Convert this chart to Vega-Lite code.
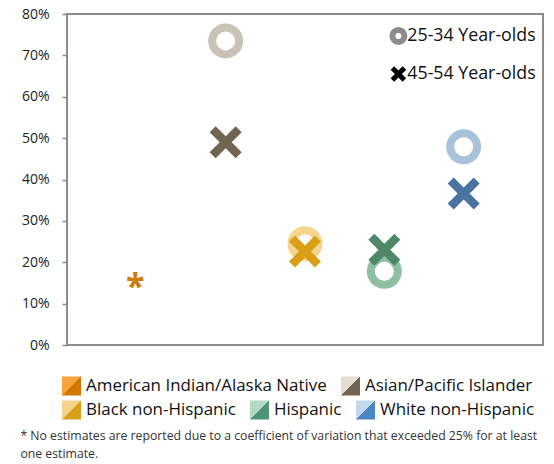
{
  "$schema": "https://vega.github.io/schema/vega-lite/v6.json",
  "width": 476,
  "height": 331,
  "autosize": "none",
  "padding": {"left": 67, "top": 14, "right": 11, "bottom": 119},
  "config": {
    "font": "Open Sans",
    "view": {"stroke": "#8c8c8c", "strokeWidth": 2}
  },
  "title": {
    "text": ["* No estimates are reported due to a coefficient of variation that exceeded 25% for at least", "one estimate."],
    "orient": "bottom",
    "anchor": "start",
    "frame": "bounds",
    "fontSize": 12.25,
    "fontWeight": "normal",
    "color": "#333333",
    "lineHeight": 18.5,
    "offset": 10,
    "dx": -1
  },
  "data": {
    "values": [
      {"group": "American Indian/Alaska Native", "age": "none", "value": 0.15, "note": "*"},
      {"group": "Asian/Pacific Islander", "age": "25-34 Year-olds", "value": 0.735},
      {"group": "Asian/Pacific Islander", "age": "45-54 Year-olds", "value": 0.49},
      {"group": "Black non-Hispanic", "age": "25-34 Year-olds", "value": 0.245},
      {"group": "Black non-Hispanic", "age": "45-54 Year-olds", "value": 0.226},
      {"group": "Hispanic", "age": "25-34 Year-olds", "value": 0.178},
      {"group": "Hispanic", "age": "45-54 Year-olds", "value": 0.23},
      {"group": "White non-Hispanic", "age": "25-34 Year-olds", "value": 0.479},
      {"group": "White non-Hispanic", "age": "45-54 Year-olds", "value": 0.366}
    ]
  },
  "encoding": {
    "x": {
      "field": "group",
      "type": "nominal",
      "scale": {"type": "point", "padding": 1, "domain": ["American Indian/Alaska Native", "Asian/Pacific Islander", "Black non-Hispanic", "Hispanic", "White non-Hispanic"]},
      "axis": null
    },
    "y": {
      "field": "value",
      "type": "quantitative",
      "scale": {"domain": [0, 0.8], "nice": false},
      "axis": {
        "title": null,
        "format": ".0%",
        "values": [0, 0.1, 0.2, 0.3, 0.4, 0.5, 0.6, 0.7, 0.8],
        "grid": false,
        "domain": false,
        "tickColor": "#8c8c8c",
        "tickSize": 5,
        "tickWidth": 1.5,
        "labelFontSize": 14,
        "labelColor": "#222222",
        "labelPadding": 13
      }
    }
  },
  "resolve": {"scale": {"fill": "independent"}},
  "layer": [
    {
      "transform": [{"filter": "false"}],
      "mark": {"type": "point", "filled": true, "shape": "square", "opacity": 1, "strokeWidth": 0},
      "encoding": {
        "fill": {
          "field": "group",
          "type": "nominal",
          "scale": {
            "domain": ["American Indian/Alaska Native", "Asian/Pacific Islander"],
            "range": [
              {"expr": "{gradient: 'linear', x1: 0, y1: 0, x2: 1, y2: 1, stops: [{offset: 0, color: '#F9A33B'}, {offset: 0.5, color: '#F9A33B'}, {offset: 0.5, color: '#D07800'}, {offset: 1, color: '#D07800'}]}"},
              {"expr": "{gradient: 'linear', x1: 0, y1: 0, x2: 1, y2: 1, stops: [{offset: 0, color: '#E4DDD1'}, {offset: 0.5, color: '#E4DDD1'}, {offset: 0.5, color: '#6E6650'}, {offset: 1, color: '#6E6650'}]}"}
            ]
          },
          "legend": {
            "title": null,
            "orient": "none",
            "legendX": -5,
            "legendY": 362.5,
            "direction": "horizontal",
            "symbolType": "square",
            "symbolSize": 361,
            "symbolStrokeWidth": 0,
            "symbolOpacity": 1,
            "labelFontSize": 16.95,
            "labelColor": "#111111",
            "labelOffset": 5,
            "columnPadding": 14,
            "padding": 0,
            "labelLimit": 400
          }
        }
      }
    },
    {
      "transform": [{"filter": "false"}],
      "mark": {"type": "point", "filled": true, "shape": "square", "opacity": 1, "strokeWidth": 0},
      "encoding": {
        "fill": {
          "field": "group",
          "type": "nominal",
          "scale": {
            "domain": ["Black non-Hispanic", "Hispanic", "White non-Hispanic"],
            "range": [
              {"expr": "{gradient: 'linear', x1: 0, y1: 0, x2: 1, y2: 1, stops: [{offset: 0, color: '#F5D38A'}, {offset: 0.5, color: '#F5D38A'}, {offset: 0.5, color: '#D9A11A'}, {offset: 1, color: '#D9A11A'}]}"},
              {"expr": "{gradient: 'linear', x1: 0, y1: 0, x2: 1, y2: 1, stops: [{offset: 0, color: '#B4D8C6'}, {offset: 0.5, color: '#B4D8C6'}, {offset: 0.5, color: '#4E9578'}, {offset: 1, color: '#4E9578'}]}"},
              {"expr": "{gradient: 'linear', x1: 0, y1: 0, x2: 1, y2: 1, stops: [{offset: 0, color: '#C3D8EE'}, {offset: 0.5, color: '#C3D8EE'}, {offset: 0.5, color: '#4A86C2'}, {offset: 1, color: '#4A86C2'}]}"}
            ]
          },
          "legend": {
            "title": null,
            "orient": "none",
            "legendX": -5,
            "legendY": 386.5,
            "direction": "horizontal",
            "symbolType": "square",
            "symbolSize": 361,
            "symbolStrokeWidth": 0,
            "symbolOpacity": 1,
            "labelFontSize": 16.95,
            "labelColor": "#111111",
            "labelOffset": 5,
            "columnPadding": 14,
            "padding": 0,
            "labelLimit": 400
          }
        }
      }
    },
    {
      "transform": [{"filter": "datum.age === '25-34 Year-olds'"}],
      "mark": {"type": "point", "filled": false, "strokeWidth": 8, "size": 729, "opacity": 1},
      "encoding": {
        "stroke": {
          "field": "group",
          "type": "nominal",
          "scale": {
            "domain": ["American Indian/Alaska Native", "Asian/Pacific Islander", "Black non-Hispanic", "Hispanic", "White non-Hispanic"],
            "range": ["#F8A841", "#C9C3B7", "#F6D58E", "#8FBFA2", "#A8C2DA"]
          },
          "legend": null
        },
        "shape": {
          "field": "age",
          "type": "nominal",
          "scale": {
            "domain": ["25-34 Year-olds", "45-54 Year-olds"],
            "range": ["circle", "M-1,-1L1,1M-1,1L1,-1"]
          },
          "legend": {
            "title": null,
            "orient": "none",
            "legendX": 322.5,
            "legendY": 13,
            "direction": "vertical",
            "symbolSize": 144,
            "symbolFillColor": "transparent",
            "symbolStrokeColor": {"expr": "datum.value === '25-34 Year-olds' ? '#8c8c8c' : '#000000'"},
            "symbolStrokeWidth": {"expr": "datum.value === '25-34 Year-olds' ? 6 : 5"},
            "symbolOpacity": 1,
            "labelFontSize": 17.8,
            "labelColor": "#111111",
            "labelOffset": 0,
            "rowPadding": 3,
            "padding": 0
          }
        }
      }
    },
    {
      "transform": [{"filter": "datum.age === '45-54 Year-olds'"}],
      "mark": {"type": "point", "filled": false, "size": 676, "opacity": 1, "strokeWidth": 8.5, "strokeCap": "butt"},
      "encoding": {
        "color": {
          "field": "group",
          "type": "nominal",
          "scale": {
            "domain": ["American Indian/Alaska Native", "Asian/Pacific Islander", "Black non-Hispanic", "Hispanic", "White non-Hispanic"],
            "range": ["#D07A00", "#6E6651", "#D9A017", "#4F8768", "#4A74A0"]
          },
          "legend": null
        },
        "shape": {"field": "age", "type": "nominal"}
      }
    },
    {
      "transform": [{"filter": "datum.age === 'none'"}],
      "mark": {"type": "text", "fontSize": 34, "fontWeight": "bold", "dx": -11, "dy": 15, "baseline": "alphabetic", "align": "center", "color": "#D07A00"},
      "encoding": {
        "text": {"field": "note", "type": "nominal"}
      }
    }
  ]
}
